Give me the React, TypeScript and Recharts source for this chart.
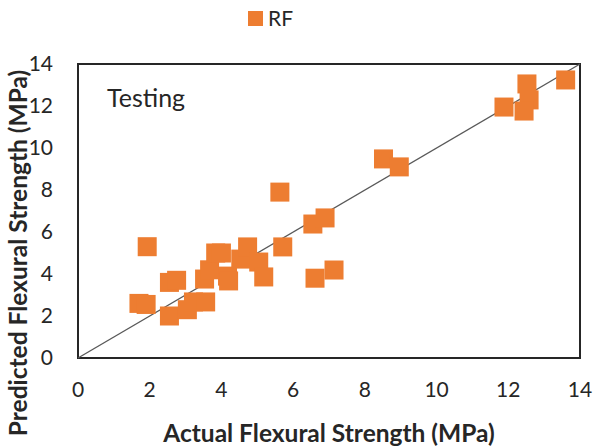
import React from 'react'
import {
  ScatterChart, Scatter,
  XAxis, YAxis,
  Legend, ReferenceArea,
} from 'recharts'

// actual vs predicted flexural strength (MPa), testing set
const actual = [
  1.7, 1.9, 1.93, 2.55, 2.75, 2.55, 3.05, 3.22, 3.56, 3.53,
  3.67, 3.84, 4.0, 4.17, 4.2, 4.54, 4.73, 5.04, 5.18, 5.71,
  5.63, 6.55, 6.89, 6.61, 7.14, 8.52, 8.96, 11.88, 12.52, 12.58,
  12.44, 13.6,
]
const predicted = [
  2.6, 2.55, 5.3, 3.6, 3.7, 2.0, 2.3, 2.67, 2.67, 3.76,
  4.2, 5.0, 5.0, 3.9, 3.67, 4.71, 5.29, 4.57, 3.86, 5.29,
  7.9, 6.38, 6.67, 3.8, 4.19, 9.48, 9.1, 11.95, 13.05, 12.29,
  11.76, 13.24,
]
const lineX = [0, 14]
const ticks = [0, 2, 4, 6, 8, 10, 12, 14]

const points = actual.map((x, i) => ({ x, y: predicted[i] }))
const diagonal = lineX.map(v => ({ x: v, y: v }))

const ORANGE = '#ED7D31'
const INK = '#262626'
const font = 'Lato, "Open Sans", sans-serif'
const tick = { fill: INK, fontSize: 21, fontFamily: font }
const titleStyle = { fill: INK, fontSize: 24.5, fontWeight: 700, fontFamily: font }

const Square = (props: any) => {
  const { cx, cy } = props
  if (cx == null || cy == null) return <g />
  return <rect x={cx - 9.5} y={cy - 9.5} width={19} height={19} fill={ORANGE} />
}

const LegendBox = () => (
  <div style={{ display: 'flex', alignItems: 'center', gap: 5, fontFamily: font, fontSize: 21, color: INK, lineHeight: '24px' }}>
    <span style={{ width: 15, height: 15, background: ORANGE, display: 'inline-block' }} />
    RF
  </div>
)

export default function App() {
  return (
    <div style={{ position: 'absolute', left: 0, top: 0, width: 596, height: 447, background: '#fff' }}>
      <ScatterChart width={596} height={447} margin={{ top: 40, right: 16, bottom: 0, left: 0 }}>
        <XAxis
          type="number" dataKey="x" domain={[0, 14]} ticks={ticks}
          stroke={INK} strokeWidth={2} tickLine={false} tickSize={0} tickMargin={24}
          tick={tick} height={89}
          label={{ value: 'Actual Flexural Strength (MPa)', position: 'insideBottom', offset: 5, style: titleStyle }}
        />
        <YAxis
          type="number" dataKey="y" domain={[0, 14]} ticks={ticks}
          stroke={INK} strokeWidth={2} tickLine={false} tickSize={0} tickMargin={25}
          tick={tick} width={78}
          label={{
            content: ({ viewBox }: any) => {
              const cy = viewBox.y + viewBox.height / 2 + 42
              return (
                <text x={17} y={cy} transform={`rotate(-90 17 ${cy})`} textAnchor="middle" dominantBaseline="central" style={titleStyle}>
                  Predicted Flexural Strength (MPa)
                </text>
              )
            },
          }}
        />
        <Legend verticalAlign="top" content={LegendBox} wrapperStyle={{ top: 6, left: 248, width: 'auto' }} />
        <ReferenceArea x1={0} x2={14} y1={0} y2={14} fill="#fff" fillOpacity={0} stroke={INK} strokeWidth={2} strokeOpacity={1} ifOverflow="visible" />
        <Scatter data={diagonal} line={{ stroke: '#595959', strokeWidth: 1.3 }} shape={() => <g />} isAnimationActive={false} legendType="none" />
        <Scatter name="RF" data={points} fill={ORANGE} shape={Square} isAnimationActive={false} />
      </ScatterChart>
      <div style={{ position: 'absolute', left: 107, top: 82, fontFamily: font, fontSize: 25, color: INK }}>
        Testing
      </div>
    </div>
  )
}
